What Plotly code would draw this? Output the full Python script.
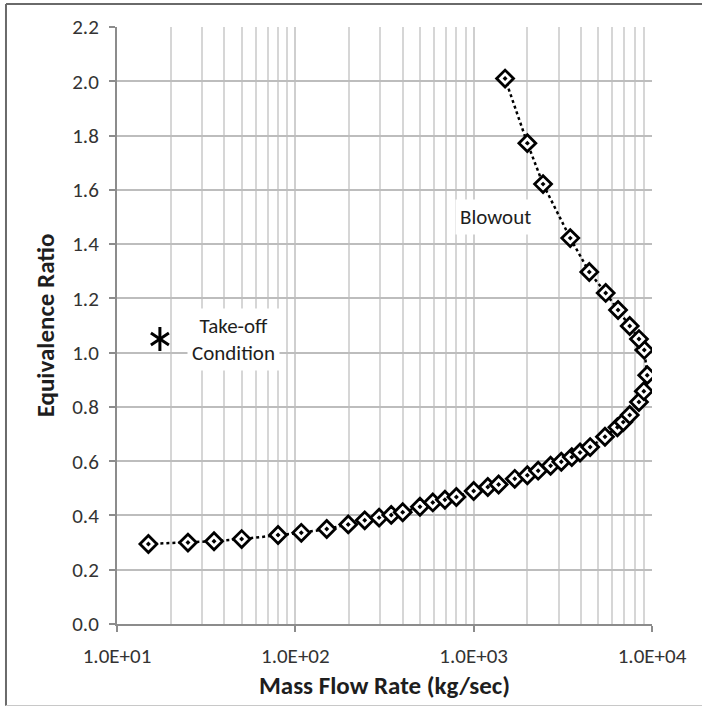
import plotly.graph_objects as go

# Data
mass_flow = [15, 25, 35, 50, 80, 108, 150, 198, 245, 295, 345, 400, 500, 590, 690, 800,
             1000, 1200, 1380, 1700, 2000, 2300, 2700, 3100, 3550, 3950, 4500, 5450, 6400,
             6900, 7500, 8450, 9000, 9400, 9050, 8450, 7500, 6450, 5500, 4450, 3480, 2450,
             2000, 1500]
equiv_ratio = [0.295, 0.300, 0.305, 0.313, 0.328, 0.336, 0.350, 0.367, 0.382, 0.392, 0.402,
               0.412, 0.432, 0.448, 0.458, 0.468, 0.490, 0.505, 0.514, 0.535, 0.548, 0.565,
               0.583, 0.598, 0.615, 0.632, 0.652, 0.690, 0.725, 0.744, 0.770, 0.818, 0.858,
               0.917, 1.010, 1.050, 1.098, 1.157, 1.220, 1.297, 1.422, 1.621, 1.772, 2.010]

takeoff_flow = [17.4]
takeoff_ratio = [1.05]

x_major = [10, 100, 1000, 10000]
x_major_labels = ["1.0E+01", "1.0E+02", "1.0E+03", "1.0E+04"]
x_minor = [m * d for d in (10, 100, 1000) for m in range(2, 10)]

FONT = "Carlito, Lato, 'Open Sans', sans-serif"
TXT = "#1e1e1e"

fig = go.Figure()

fig.add_trace(go.Scatter(
    x=mass_flow, y=equiv_ratio, mode="lines+markers",
    line=dict(color="black", width=2.5, dash="dot"),
    marker=dict(symbol="diamond-dot", size=13, color="white",
                line=dict(color="black", width=2.8)),
    showlegend=False, hoverinfo="x+y"))

for sym in ("y-up-open", "y-down-open"):
    fig.add_trace(go.Scatter(
        x=takeoff_flow, y=takeoff_ratio, mode="markers",
        marker=dict(symbol=sym, size=15, color="black",
                    line=dict(color="black", width=3)),
        showlegend=False, hoverinfo="x+y"))

fig.add_annotation(x=1.651, y=1.05, xref="x", yref="y",
                   text="Take-off<br>Condition", showarrow=False,
                   font=dict(family=FONT, size=21, color=TXT),
                   bgcolor="white", borderpad=4, align="center")
fig.add_annotation(x=3.12, y=1.50, xref="x", yref="y",
                   text="Blowout", showarrow=False,
                   font=dict(family=FONT, size=21, color=TXT),
                   bgcolor="white", borderpad=4, align="center")

# outer picture frame
frame = dict(color="#6a6a6a", width=2)
fig.add_shape(type="line", xref="paper", yref="paper", x0=-0.2075, x1=1.1, y0=1.0385, y1=1.0385, line=frame)
fig.add_shape(type="line", xref="paper", yref="paper", x0=-0.2075, x1=-0.2075, y0=1.0385, y1=-0.137, line=frame)
fig.add_shape(type="line", xref="paper", yref="paper", x0=-0.2075, x1=1.1, y0=-0.137, y1=-0.137,
              line=dict(color="#c8c8c8", width=1.5))

fig.update_xaxes(
    type="log", range=[1, 4],
    tickmode="array", tickvals=x_major, ticktext=x_major_labels,
    ticks="outside", ticklen=6, tickcolor="#8c8c8c", tickwidth=1.5,
    ticklabelstandoff=6,
    showgrid=True, gridcolor="#cfcfcf", gridwidth=1.5,
    minor=dict(tickmode="array", tickvals=x_minor, showgrid=True,
               gridcolor="#d6d6d6", gridwidth=1.5, ticks=""),
    showline=True, linecolor="#8c8c8c", linewidth=2,
    tickfont=dict(family=FONT, size=21, color="#333333"),
    title=dict(text="<b>Mass Flow Rate (kg/sec)</b>", standoff=8,
               font=dict(family=FONT, size=25, color=TXT)),
    zeroline=False)

fig.update_yaxes(
    range=[0, 2.2], dtick=0.2, tick0=0, tickformat=".1f",
    ticks="outside", ticklen=6, tickcolor="#8c8c8c", tickwidth=1.5,
    ticklabelstandoff=6,
    showgrid=True, gridcolor="#bdbdbd", gridwidth=1.5,
    showline=True, linecolor="#8c8c8c", linewidth=2,
    tickfont=dict(family=FONT, size=21, color="#333333"),
    title=dict(text="<b>Equivalence Ratio</b>", standoff=10,
               font=dict(family=FONT, size=25, color=TXT)),
    zeroline=False)

fig.update_layout(
    width=702, height=706,
    margin=dict(l=117, r=50, t=27, b=82),
    paper_bgcolor="white", plot_bgcolor="white",
    showlegend=False)

fig.write_html("out.html")
